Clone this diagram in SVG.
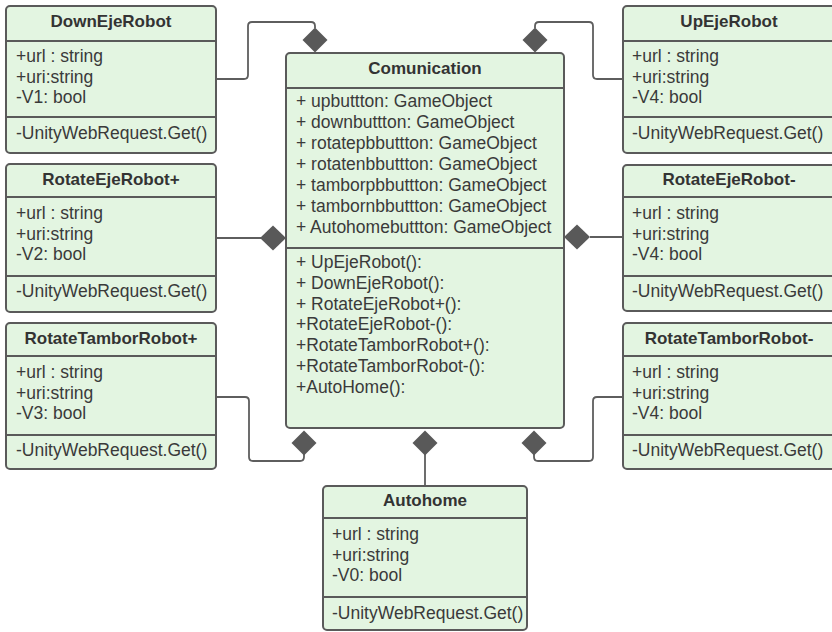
<svg xmlns="http://www.w3.org/2000/svg" width="832" height="632" viewBox="0 0 832 632">
  <style>
    .box { fill: #e3f5e1; stroke: #5a5a5a; stroke-width: 2; }
    .sep { stroke: #5a5a5a; stroke-width: 2; }
    .title { font-family: "Liberation Sans", Arial, sans-serif; font-size: 17px; font-weight: bold; fill: #333333; text-anchor: middle; }
    .txt { font-family: "Liberation Sans", Arial, sans-serif; font-size: 17.5px; fill: #3a3a3a; }
    .wire { fill: none; stroke: #5e5e5e; stroke-width: 1.8; stroke-linejoin: round; }
    .dia { fill: #595959; stroke: none; }
  </style>
  <rect width="832" height="632" fill="#ffffff"/>

  <!-- connectors: composition links into Comunication -->
  <g id="connectors">
    <path class="wire" d="M216 79 H244 Q248 79 248 75 V26 Q248 22 252 22 H311 Q315 22 315 26 V28"/>
    <polygon class="dia" points="315,27.5 327.5,40 315,52.5 302.5,40"/>

    <path class="wire" d="M623 79 H597 Q593 79 593 75 V26 Q593 22 589 22 H539 Q535 22 535 26 V28"/>
    <polygon class="dia" points="535,27.5 547.5,40 535,52.5 522.5,40"/>

    <path class="wire" d="M216 238 H261"/>
    <polygon class="dia" points="260,238 273,225.5 286,238 273,250.5"/>

    <path class="wire" d="M590 237 H623"/>
    <polygon class="dia" points="564,237 577,224.5 590,237 577,249.5"/>

    <path class="wire" d="M304 454 V457 Q304 461 300 461 H253 Q249 461 249 457 V401 Q249 397 245 397 H216"/>
    <polygon class="dia" points="304,430.5 316.5,443 304,455.5 291.5,443"/>

    <path class="wire" d="M425 454 V486"/>
    <polygon class="dia" points="425,430.5 437.5,443 425,455.5 412.5,443"/>

    <path class="wire" d="M534 454 V457 Q534 461 538 461 H589 Q593 461 593 457 V401 Q593 397 597 397 H623"/>
    <polygon class="dia" points="534,430.5 546.5,443 534,455.5 521.5,443"/>
  </g>

  <!-- Comunication -->
  <g id="comunication">
    <rect class="box" x="286" y="53" width="278" height="375" rx="4"/>
    <line class="sep" x1="286" y1="88" x2="564" y2="88"/>
    <line class="sep" x1="286" y1="248" x2="564" y2="248"/>
    <text class="title" x="425" y="74">Comunication</text>
    <text class="txt" x="296" y="107">+ upbuttton: GameObject</text>
    <text class="txt" x="296" y="128">+ downbuttton: GameObject</text>
    <text class="txt" x="296" y="149">+ rotatepbbuttton: GameObject</text>
    <text class="txt" x="296" y="170">+ rotatenbbuttton: GameObject</text>
    <text class="txt" x="296" y="191">+ tamborpbbuttton: GameObject</text>
    <text class="txt" x="296" y="212">+ tambornbbuttton: GameObject</text>
    <text class="txt" x="296" y="233">+ Autohomebuttton: GameObject</text>
    <text class="txt" x="296" y="268">+ UpEjeRobot():</text>
    <text class="txt" x="296" y="289">+ DownEjeRobot():</text>
    <text class="txt" x="296" y="310">+ RotateEjeRobot+():</text>
    <text class="txt" x="296" y="330">+RotateEjeRobot-():</text>
    <text class="txt" x="296" y="351">+RotateTamborRobot+():</text>
    <text class="txt" x="296" y="372">+RotateTamborRobot-():</text>
    <text class="txt" x="296" y="393">+AutoHome():</text>
  </g>

  <!-- DownEjeRobot -->
  <g id="downEjeRobot">
    <rect class="box" x="6" y="6" width="210" height="147" rx="4"/>
    <line class="sep" x1="6" y1="41" x2="216" y2="41"/>
    <line class="sep" x1="6" y1="117" x2="216" y2="117"/>
    <text class="title" x="111" y="27">DownEjeRobot</text>
    <text class="txt" x="16" y="62">+url : string</text>
    <text class="txt" x="16" y="83">+uri:string</text>
    <text class="txt" x="16" y="103">-V1: bool</text>
    <text class="txt" x="16" y="139">-UnityWebRequest.Get()</text>
  </g>

  <!-- UpEjeRobot -->
  <g id="upEjeRobot">
    <rect class="box" x="623" y="6" width="212" height="147" rx="4"/>
    <line class="sep" x1="623" y1="41" x2="835" y2="41"/>
    <line class="sep" x1="623" y1="117" x2="835" y2="117"/>
    <text class="title" x="729" y="27">UpEjeRobot</text>
    <text class="txt" x="632" y="62">+url : string</text>
    <text class="txt" x="632" y="83">+uri:string</text>
    <text class="txt" x="632" y="103">-V4: bool</text>
    <text class="txt" x="632" y="139">-UnityWebRequest.Get()</text>
  </g>

  <!-- RotateEjeRobot+ -->
  <g id="rotateEjeRobotPlus">
    <rect class="box" x="6" y="164" width="210" height="148" rx="4"/>
    <line class="sep" x1="6" y1="197" x2="216" y2="197"/>
    <line class="sep" x1="6" y1="276" x2="216" y2="276"/>
    <text class="title" x="111" y="185">RotateEjeRobot+</text>
    <text class="txt" x="16" y="219">+url : string</text>
    <text class="txt" x="16" y="240">+uri:string</text>
    <text class="txt" x="16" y="260">-V2: bool</text>
    <text class="txt" x="16" y="297">-UnityWebRequest.Get()</text>
  </g>

  <!-- RotateEjeRobot- -->
  <g id="rotateEjeRobotMinus">
    <rect class="box" x="623" y="165" width="212" height="146" rx="4"/>
    <line class="sep" x1="623" y1="197" x2="835" y2="197"/>
    <line class="sep" x1="623" y1="276" x2="835" y2="276"/>
    <text class="title" x="729" y="185">RotateEjeRobot-</text>
    <text class="txt" x="632" y="219">+url : string</text>
    <text class="txt" x="632" y="240">+uri:string</text>
    <text class="txt" x="632" y="260">-V4: bool</text>
    <text class="txt" x="632" y="297">-UnityWebRequest.Get()</text>
  </g>

  <!-- RotateTamborRobot+ -->
  <g id="rotateTamborRobotPlus">
    <rect class="box" x="6" y="323" width="210" height="146" rx="4"/>
    <line class="sep" x1="6" y1="356" x2="216" y2="356"/>
    <line class="sep" x1="6" y1="435" x2="216" y2="435"/>
    <text class="title" x="111" y="344">RotateTamborRobot+</text>
    <text class="txt" x="16" y="378">+url : string</text>
    <text class="txt" x="16" y="399">+uri:string</text>
    <text class="txt" x="16" y="419">-V3: bool</text>
    <text class="txt" x="16" y="456">-UnityWebRequest.Get()</text>
  </g>

  <!-- RotateTamborRobot- -->
  <g id="rotateTamborRobotMinus">
    <rect class="box" x="623" y="323" width="212" height="146" rx="4"/>
    <line class="sep" x1="623" y1="356" x2="835" y2="356"/>
    <line class="sep" x1="623" y1="435" x2="835" y2="435"/>
    <text class="title" x="729" y="344">RotateTamborRobot-</text>
    <text class="txt" x="632" y="378">+url : string</text>
    <text class="txt" x="632" y="399">+uri:string</text>
    <text class="txt" x="632" y="419">-V4: bool</text>
    <text class="txt" x="632" y="456">-UnityWebRequest.Get()</text>
  </g>

  <!-- Autohome -->
  <g id="autohome">
    <rect class="box" x="323" y="486" width="204" height="144" rx="4"/>
    <line class="sep" x1="323" y1="518" x2="527" y2="518"/>
    <line class="sep" x1="323" y1="597" x2="527" y2="597"/>
    <text class="title" x="425" y="506">Autohome</text>
    <text class="txt" x="332" y="540">+url : string</text>
    <text class="txt" x="332" y="561">+uri:string</text>
    <text class="txt" x="332" y="581">-V0: bool</text>
    <text class="txt" x="332" y="619">-UnityWebRequest.Get()</text>
  </g>
</svg>
